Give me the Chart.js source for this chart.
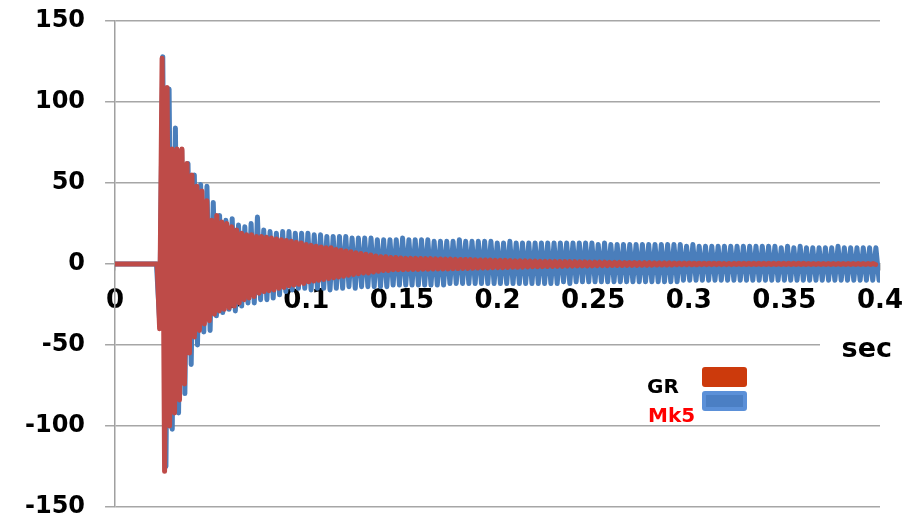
<!DOCTYPE html>
<html>
<head>
<meta charset="utf-8">
<script src="https://cdn.jsdelivr.net/npm/chart.js@4.4.1/dist/chart.umd.min.js"></script>
<style>
    body { margin: 0; background: #fff; }
    #wrap { position: relative; width: 914px; height: 518px; }
    .txt { position: absolute; font-family: 'DejaVu Sans', sans-serif; font-weight: bold; white-space: nowrap; }
    #sec { left: 820px; top: 333px; width: 72px; height: 30px; line-height: 30px; font-size: 27px; text-align: right; background: #fff; color: #000; }
    #lgGR { left: 647px; top: 376px; font-size: 20px; line-height: 20px; color: #000; }
    #lgMk5 { left: 648px; top: 405px; font-size: 20px; line-height: 20px; color: #ff0000; }
    .swatch { position: absolute; left: 702px; width: 45px; height: 20px; border-radius: 3px; box-sizing: border-box; }
    #swRed { top: 367px; background: #cc3a0c; }
    #swBlue { top: 391px; background: #4b7fc4; border: 4px solid #5b90d8; }
</style>
</head>
<body>
<div id="wrap">
    <canvas id="chart" width="914" height="518"></canvas>
    <div class="txt" id="sec">sec</div>
    <div class="txt" id="lgGR">GR</div>
    <div class="swatch" id="swRed"></div>
    <div class="txt" id="lgMk5">Mk5</div>
    <div class="swatch" id="swBlue"></div>
</div>
<script>
// axis ticks
const xTicks = [0, 0.05, 0.1, 0.15, 0.2, 0.25, 0.3, 0.35, 0.4];
const xTickLabels = ['0', '0.05', '0.1', '0.15', '0.2', '0.25', '0.3', '0.35', '0.4'];
const yTicks = [-150, -100, -50, 0, 50, 100, 150];

// signal starts here (sec); flat zero before
const seriesStart = 0.0233;
const blueHalfPeriod = 0.00165;
const redHalfPeriod = 0.0013;

// successive peak values (high/low alternating)
const bluePeaks = [
    -35,
    128, -125, 108, -102, 84, -92, 70, -80, 62, -62,
    55, -50, 49, -42, 48, -41, 38, -32, 30, -30,
    27, -28, 28, -29, 24, -26, 23, -24, 25, -24,
    29, -22, 21, -22, 20, -21, 19, -19, 20, -17,
    20, -16, 19, -15, 19, -15, 19, -16, 18, -15,
    18, -15, 17, -16, 17, -15, 17, -15, 17, -14,
    16, -15, 16, -14, 16, -14, 16, -14, 15, -14,
    15, -14, 15, -13, 15, -13, 16, -13, 15, -13,
    15, -13, 15, -13, 15, -13, 14, -13, 14, -13,
    14, -12, 14, -12, 15, -12, 14, -12, 14, -12,
    14, -12, 14, -12, 14, -12, 13, -12, 13, -12,
    14, -12, 13, -12, 13, -12, 13, -12, 13, -12,
    13, -12, 13, -12, 13, -12, 13, -11, 13, -12,
    13, -11, 13, -11, 13, -11, 13, -11, 12, -11,
    13, -11, 12, -11, 12, -11, 12, -11, 12, -11,
    12, -11, 12, -11, 12, -11, 12, -11, 12, -11,
    12, -11, 12, -11, 12, -10, 11, -10, 12, -10,
    11, -10, 11, -10, 11, -10, 11, -10, 11, -10,
    11, -10, 11, -10, 11, -10, 11, -10, 11, -10,
    11, -10, 11, -10, 11, -10, 10, -10, 11, -10,
    10, -10, 11, -10, 10, -10, 10, -10, 10, -10,
    10, -10, 10, -10, 11, -10, 10, -10, 10, -10,
    10, -10, 10, -10, 10, -10, 10, -10
];

const redPeaks = [
    -40,
    127, -128, 109, -100, 71, -92, 71, -84, 71, -74,
    62, -55, 55, -45, 48, -41, 45, -37, 39, -35,
    27, -31, 30, -29, 26, -28, 25, -27, 23, -26,
    21, -24, 19, -22, 18, -21, 18, -20, 17, -18,
    17, -17, 16.5, -16.5, 16, -16, 15.5, -15, 15, -14.5,
    14.5, -13.5, 14, -13, 13.5, -12.5, 13, -12, 12, -11,
    11.5, -10.5, 11, -10, 10.5, -9.5, 10, -9, 10, -8.5,
    9, -8, 8.5, -7.5, 8, -7, 7.5, -6.5, 7, -6,
    6.5, -5.5, 6, -5.5, 5.5, -5, 5, -4.5, 4.5, -4,
    4.5, -4, 4, -3.5, 4, -3.5, 3.7, -3.5, 3.5, -3.3,
    3.5, -3.3, 3.5, -3.3, 3.4, -3.2, 3.3, -3.2, 3.3, -3.1,
    3.2, -3, 3.1, -3, 3, -3, 3, -2.9, 2.9, -2.8,
    2.8, -2.7, 2.8, -2.7, 2.7, -2.6, 2.6, -2.5, 2.5, -2.5,
    2.5, -2.4, 2.4, -2.3, 2.3, -2.2, 2.2, -2.2, 2.2, -2.1,
    2.1, -2, 2, -2, 2, -1.9, 1.9, -1.8, 1.8, -1.7,
    1.8, -1.7, 1.7, -1.6, 1.7, -1.5, 1.6, -1.5, 1.6, -1.4,
    1.5, -1.4, 1.5, -1.3, 1.4, -1.3, 1.4, -1.2, 1.3, -1.2,
    1.3, -1.1, 1.2, -1.1, 1.2, -1, 1.1, -1, 1.1, -1,
    1, -0.9, 1, -0.9, 1, -0.9, 0.9, -0.8, 0.9, -0.8,
    0.9, -0.8, 0.8, -0.7, 0.8, -0.7, 0.8, -0.7, 0.7, -0.6,
    0.7, -0.6, 0.7, -0.6, 0.7, -0.6, 0.6, -0.5, 0.6, -0.5,
    0.6, -0.5, 0.6, -0.5, 0.5, -0.5, 0.5, -0.4, 0.5, -0.4,
    0.5, -0.4, 0.5, -0.4, 0.5, -0.4, 0.4, -0.4, 0.4, -0.4,
    0.4, -0.3, 0.4, -0.3, 0.4, -0.3, 0.4, -0.3, 0.4, -0.3,
    0.4, -0.3, 0.4, -0.3, 0.4, -0.3, 0.4, -0.3, 0.4, -0.3,
    0.4, -0.3, 0.4, -0.3, 0.4, -0.3, 0.4, -0.3, 0.4, -0.3,
    0.3, -0.3, 0.3, -0.3, 0.3, -0.3, 0.3, -0.3, 0.3, -0.3,
    0.3, -0.3, 0.3, -0.3, 0.3, -0.3, 0.3, -0.3, 0.3, -0.3,
    0.3, -0.3, 0.3, -0.3, 0.3, -0.3, 0.3, -0.3
];

// flat zero, then the peaks one half-period apart
function toPoints(peaks, half) {
    const pts = [{ x: 0, y: 0 }, { x: seriesStart - half, y: 0 }];
    peaks.forEach((v, k) => pts.push({ x: seriesStart + k * half, y: v }));
    return pts;
}

const tickFont = size => ({ family: 'DejaVu Sans', weight: 'bold', size: size, lineHeight: 1 });
const lineStyle = { pointRadius: 0, borderWidth: 5, borderJoinStyle: 'round', borderCapStyle: 'round', tension: 0, fill: false };

// let layout.padding alone decide the plot edges
const noScalePadding = s => { s.paddingTop = 0; s.paddingBottom = 0; s.paddingLeft = 0; s.paddingRight = 0; };

new Chart(document.getElementById('chart'), {
    type: 'line',
    data: {
        datasets: [
            Object.assign({ label: 'GR', data: toPoints(redPeaks, redHalfPeriod), borderColor: '#be4b48', order: 0 }, lineStyle),
            Object.assign({ label: 'Mk5', data: toPoints(bluePeaks, blueHalfPeriod), borderColor: '#4a7ebb', order: 1 }, lineStyle)
        ]
    },
    options: {
        responsive: false,
        animation: false,
        events: [],
        layout: { padding: { left: 5, right: 34, top: 21, bottom: 11 } },
        plugins: { legend: { display: false }, tooltip: { enabled: false } },
        scales: {
            x: {
                type: 'linear',
                position: { y: 0 },
                min: 0,
                max: 0.4,
                afterBuildTicks: s => { s.ticks = xTicks.map(v => ({ value: v })); },
                afterFit: noScalePadding,
                ticks: {
                    callback: (v, i) => xTickLabels[i],
                    color: '#000',
                    font: tickFont(26),
                    padding: 18,
                    maxRotation: 0,
                    autoSkip: false
                },
                grid: { drawOnChartArea: false, tickLength: 6, color: '#a0a0a0', lineWidth: 1.5 },
                border: { color: '#a0a0a0', width: 1.5 }
            },
            y: {
                type: 'linear',
                min: -150,
                max: 150,
                afterBuildTicks: s => { s.ticks = yTicks.map(v => ({ value: v })); },
                afterFit: noScalePadding,
                ticks: { color: '#000', font: tickFont(24), padding: 20 },
                grid: { color: '#a6a6a6', lineWidth: 1.5, tickLength: 10 },
                border: { color: '#a0a0a0', width: 1.5 }
            }
        }
    }
});
</script>
</body>
</html>
